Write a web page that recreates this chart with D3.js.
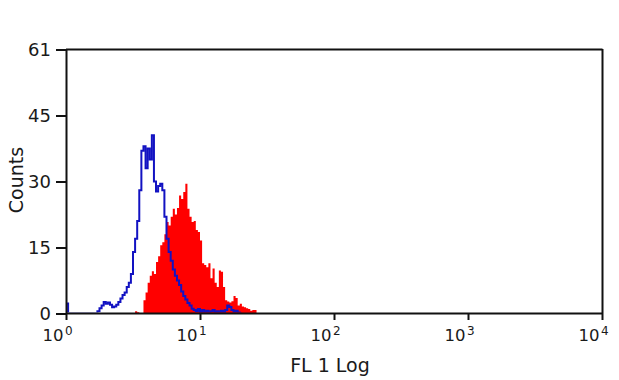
<!DOCTYPE html>
<html>
<head>
<meta charset="utf-8">
<script src="https://cdn.jsdelivr.net/npm/d3@7"></script>
<style>
  html, body { margin: 0; padding: 0; background: #fff; }
  svg { display: block; }
  text { font-family: "DejaVu Sans", Verdana, sans-serif; fill: #1a1a1a; }
</style>
</head>
<body>
<svg id="chart" width="619" height="380"></svg>
<script>
// ---- data (histogram counts per channel, 256 channels over 4 decades) ----
const channelsPerDecade = 64;

// blue (control) histogram, channels 0..84
const blueStart = 0;
const blueCounts = [
  2.3, 0, 0, 0, 0, 0, 0, 0, 0, 0, 0, 0, 0, 0,
  0, 0.5, 1.2, 1.8, 2.6, 2.2, 2.5, 2.0, 1.4, 1.6,
  2.0, 2.6, 3.4, 4.2, 4.8, 6, 7, 9, 14, 17,
  21, 28, 37, 38, 33, 37.5, 35, 40.5, 30, 27.7,
  29, 29.5, 28, 22, 17, 14, 12, 10, 8.6, 7.5,
  6.5, 5, 4, 3.2, 2.4, 1.8, 1.1, 0.8, 0.5, 1.0,
  0.3, 0.8, 0.3, 0.6, 0.2, 0.5, 0.8, 0.3, 0.5, 0.2,
  0.6, 0.3, 0.8, 1.8, 1.5, 0.8, 0.4, 0.6, 0.2, 0, 0
];

// red (stained) histogram, channels 32..92
const redStart = 32;
const redCounts = [
  0, 0.5, 0.3, 0, 0, 3, 4.8, 7, 8.6, 9.6,
  9, 11.7, 13, 15.5, 16.2, 18, 20.8, 20, 22, 23.8,
  22.5, 24, 26.8, 26, 27.6, 29.5, 23.8, 22, 20.8, 21,
  19, 18.5, 16.6, 11.4, 11, 10.5, 11.4, 8, 10.2, 7,
  6, 9.8, 9.5, 6, 3, 2.7, 2.5, 2.8, 4, 3.5,
  1.8, 2.2, 1.6, 1.4, 1.2, 1, 0.6, 0.8, 0.8, 0, 0
];

const yTickValues = [0, 15, 30, 45, 60];
const yTickLabels = ["0", "15", "30", "45", "61"];
const xTickExponents = [0, 1, 2, 3, 4];
const xTitle = "FL 1 Log";
const yTitle = "Counts";

// ---- layout ----
const mLeft = 66, mRight = 602, mTop = 49, mBottom = 313;

const svg = d3.select("#chart");
svg.append("rect").attr("width", 619).attr("height", 380).attr("fill", "#fff");

svg.append("defs").append("clipPath").attr("id", "above-axis")
  .append("rect").attr("x", 0).attr("y", 0).attr("width", 619).attr("height", mBottom - 0.5);

const x = d3.scaleLog().domain([1, 10000]).range([mLeft, mRight]);
const y = d3.scaleLinear().domain([0, 60]).range([mBottom + 0.5, mTop + 0.5]);

const chX = c => x(Math.pow(10, c / channelsPerDecade));

const redData = redCounts.map((v, i) => ({ c: redStart + i, v }));
const blueData = blueCounts.map((v, i) => ({ c: blueStart + i, v }));

// red filled histogram
svg.append("path")
  .datum(redData)
  .attr("fill", "#ff0000")
  .attr("d", d3.area()
    .curve(d3.curveStepAfter)
    .x(d => chX(d.c))
    .y0(y(0))
    .y1(d => y(d.v)));

// blue outline histogram
svg.append("path")
  .datum(blueData)
  .attr("clip-path", "url(#above-axis)")
  .attr("fill", "none")
  .attr("stroke", "#1212c2")
  .attr("stroke-width", 2)
  .attr("stroke-linejoin", "miter")
  .attr("d", d3.line()
    .curve(d3.curveStepAfter)
    .x(d => chX(d.c))
    .y(d => y(d.v)));

// frame top/right
svg.append("line").attr("x1", mLeft).attr("x2", mRight + 0.5).attr("y1", mTop + 0.5).attr("y2", mTop + 0.5)
  .attr("stroke", "#111").attr("stroke-width", 2);
svg.append("line").attr("x1", mRight + 0.5).attr("x2", mRight + 0.5).attr("y1", mTop).attr("y2", mBottom)
  .attr("stroke", "#111").attr("stroke-width", 2);

// left axis
const yAxis = d3.axisLeft(y)
  .tickValues(yTickValues)
  .tickFormat((d, i) => yTickLabels[i])
  .tickSize(10)
  .tickSizeOuter(0)
  .tickPadding(5);
const gy = svg.append("g").attr("transform", `translate(${mLeft},0)`).call(yAxis);
gy.selectAll("path, line").attr("stroke", "#111").attr("stroke-width", 2);
gy.selectAll("text").style("font-size", "18px").style("font-family", "DejaVu Sans").attr("fill", "#1a1a1a");

// bottom axis
const xAxis = d3.axisBottom(x)
  .tickValues(xTickExponents.map(e => Math.pow(10, e)))
  .tickFormat(() => "")
  .tickSize(7)
  .tickSizeOuter(0);
const gx = svg.append("g").attr("transform", `translate(0,${mBottom})`).call(xAxis);
gx.selectAll("path, line").attr("stroke", "#111").attr("stroke-width", 2);
gx.selectAll(".tick").each(function(d, i) {
  const g = d3.select(this);
  g.select("text").remove();
  g.append("text")
    .attr("x", -3).attr("y", 28)
    .attr("text-anchor", "end")
    .style("font-size", "16.5px")
    .text("10");
  g.append("text")
    .attr("x", -1.5).attr("y", 22)
    .attr("text-anchor", "start")
    .style("font-size", "12px")
    .text(String(xTickExponents[i]));
});

// titles
svg.append("text")
  .attr("x", 330).attr("y", 372)
  .attr("text-anchor", "middle")
  .style("font-size", "19px")
  .text(xTitle);
svg.append("text")
  .attr("transform", "translate(23,180) rotate(-90)")
  .attr("text-anchor", "middle")
  .style("font-size", "19px")
  .text(yTitle);
</script>
</body>
</html>
